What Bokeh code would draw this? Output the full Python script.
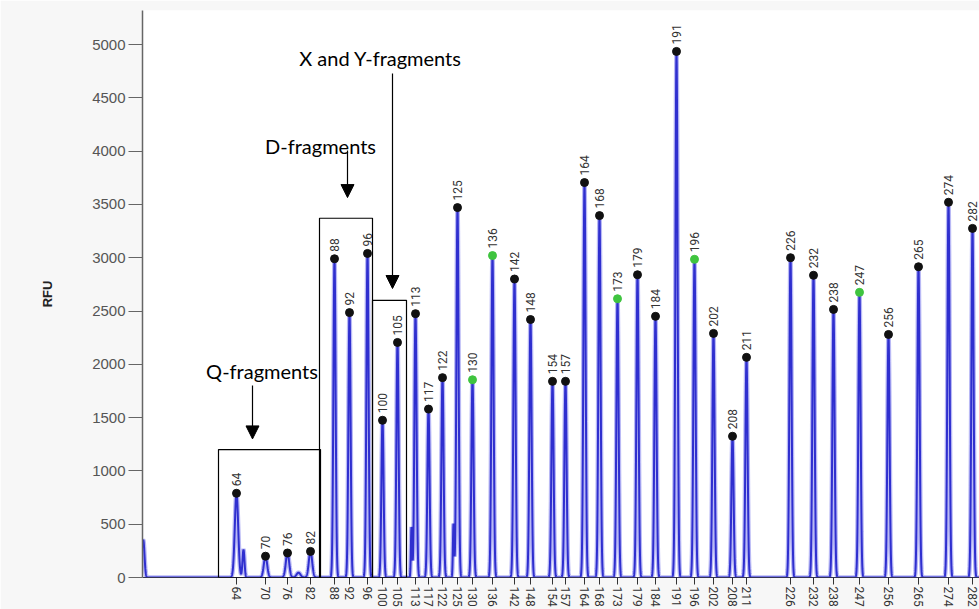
import numpy as np
from bokeh.plotting import figure
from bokeh.models import (Range1d, FixedTicker, Arrow, NormalHead, ColumnDataSource,
                          BoxAnnotation, Label)
from bokeh.core.properties import value
from bokeh.embed import file_html
from bokeh.resources import INLINE

# ---- data ----
sizes = [64, 70, 76, 82, 88, 92, 96, 100, 105, 113, 117, 122, 125, 130, 136, 142, 148,
         154, 157, 164, 168, 173, 179, 184, 191, 196, 202, 208, 211, 226, 232, 238, 247,
         256, 265, 274, 282]
scan_pos = [94, 123, 145, 168, 192, 207, 225, 240, 255, 273, 286, 300, 315, 330, 350,
            372, 388, 410, 423, 442, 457, 475, 495, 513, 534, 552, 571, 590, 604, 648,
            671, 691, 717, 746, 776, 806, 830]
rfu = [790, 200, 230, 245, 2990, 2485, 3040, 1475, 2205, 2475, 1580, 1875, 3470, 1855,
       3020, 2800, 2420, 1840, 1840, 3705, 3395, 2615, 2840, 2450, 4935, 2985, 2290,
       1325, 2065, 3000, 2835, 2515, 2675, 2280, 2915, 3520, 3275]
green_call = [130, 136, 173, 196, 247]
# unlabelled signal: primer spike, shoulder, small bump, pull-ups
extra_pos = [0.8, 101, 156, 269, 311]
extra_rfu = [350, 260, 45, 470, 500]
y_ticks = [0, 500, 1000, 1500, 2000, 2500, 3000, 3500, 4000, 4500, 5000]

# ---- trace built from the peaks ----
x = np.arange(0, 840.01, 0.1)
trace = np.zeros_like(x)
for c, h in zip(scan_pos, rfu):
    s = 1.1 if h > 1000 else 1.7
    trace += h * np.exp(-0.5 * ((x - c) / s) ** 2)
for c, h, s in zip(extra_pos, extra_rfu, [1.2, 1.0, 2.0, 0.6, 0.6]):
    trace += h * np.exp(-0.5 * ((x - c) / s) ** 2)

p = figure(frame_width=837, frame_height=567,
           x_range=Range1d(0, 837), y_range=Range1d(0, 5319),
           output_backend="svg", toolbar_location=None,
           min_border_left=142, min_border_right=0, min_border_top=10, min_border_bottom=0)
p.background_fill_color = "white"
p.border_fill_color = "#f7f7f7"
p.outline_line_color = None
p.xgrid.visible = False
p.ygrid.visible = False

# y axis
p.yaxis.ticker = FixedTicker(ticks=y_ticks)
p.yaxis.axis_label = "RFU"
p.yaxis.axis_label_text_font = "Liberation Sans"
p.yaxis.axis_label_text_font_style = "bold"
p.yaxis.axis_label_text_font_size = "13px"
p.yaxis.axis_label_text_color = "#222222"
p.yaxis.axis_label_standoff = 34
p.yaxis.major_label_text_font = "Liberation Sans"
p.yaxis.major_label_text_font_size = "15px"
p.yaxis.major_label_text_color = "#555555"
p.yaxis.major_label_standoff = 3
p.yaxis.major_tick_out = 14
p.yaxis.major_tick_in = 0
p.yaxis.minor_tick_out = 0
p.yaxis.minor_tick_in = 0
p.yaxis.axis_line_color = "#666666"
p.yaxis.axis_line_width = 1.5
p.yaxis.major_tick_line_color = "#666666"

# x axis
p.xaxis.ticker = FixedTicker(ticks=scan_pos)
p.xaxis.major_label_overrides = {sp: str(sz) for sp, sz in zip(scan_pos, sizes)}
p.xaxis.major_label_orientation = -np.pi / 2
p.xaxis.major_label_text_font = "Roboto"
p.xaxis.major_label_text_font_size = "12px"
p.xaxis.major_label_text_color = "#333333"
p.xaxis.major_label_standoff = 2
p.xaxis.major_tick_out = 7
p.xaxis.major_tick_in = 0
p.xaxis.minor_tick_out = 0
p.xaxis.minor_tick_in = 0
p.xaxis.axis_line_color = "#333355"
p.xaxis.major_tick_line_color = "#333333"

# trace
p.line(x, trace, line_color="#8a8aee", line_width=4.5, line_alpha=0.6)
p.line(x, trace, line_color="#2f2fcf", line_width=2)

# peak markers and labels
src = ColumnDataSource(dict(
    x=scan_pos, y=rfu, lab=[str(s) for s in sizes],
    col=["#3fc43f" if s in green_call else "#111111" for s in sizes]))
p.scatter("x", "y", source=src, size=8, fill_color="col", line_color="col")
p.text("x", "y", text="lab", source=src, angle=np.pi / 2, text_align="left",
       text_baseline="middle", y_offset=-7,
       text_font=value("Roboto"), text_font_size=value("12px"),
       text_color="#333333")

# fragment group boxes
for l, r, t in [(76, 178, 1200), (177, 230, 3370), (230, 264, 2600)]:
    p.add_layout(BoxAnnotation(left=l, right=r, bottom=0, top=t, fill_color=None,
                               line_color="black", line_width=1.2, line_alpha=1))

# arrows
for xa, y0, y1 in [(110, 1800, 1300), (205, 4005, 3564), (250, 4728, 2711)]:
    p.add_layout(Arrow(end=NormalHead(size=13, fill_color="black", line_color="black"),
                       x_start=xa, y_start=y0, x_end=xa, y_end=y1,
                       line_color="black", line_width=1.2))

# group titles
for xt, yt, txt in [(119.5, 1940, "Q-fragments"), (178, 4050, "D-fragments"),
                    (238, 4870, "X and Y-fragments")]:
    p.add_layout(Label(x=xt, y=yt, text=txt, text_font="Lato", text_font_size="20px",
                       text_align="center", text_baseline="alphabetic",
                       text_color="black"))

open("out.html", "w").write(file_html(p, INLINE))
